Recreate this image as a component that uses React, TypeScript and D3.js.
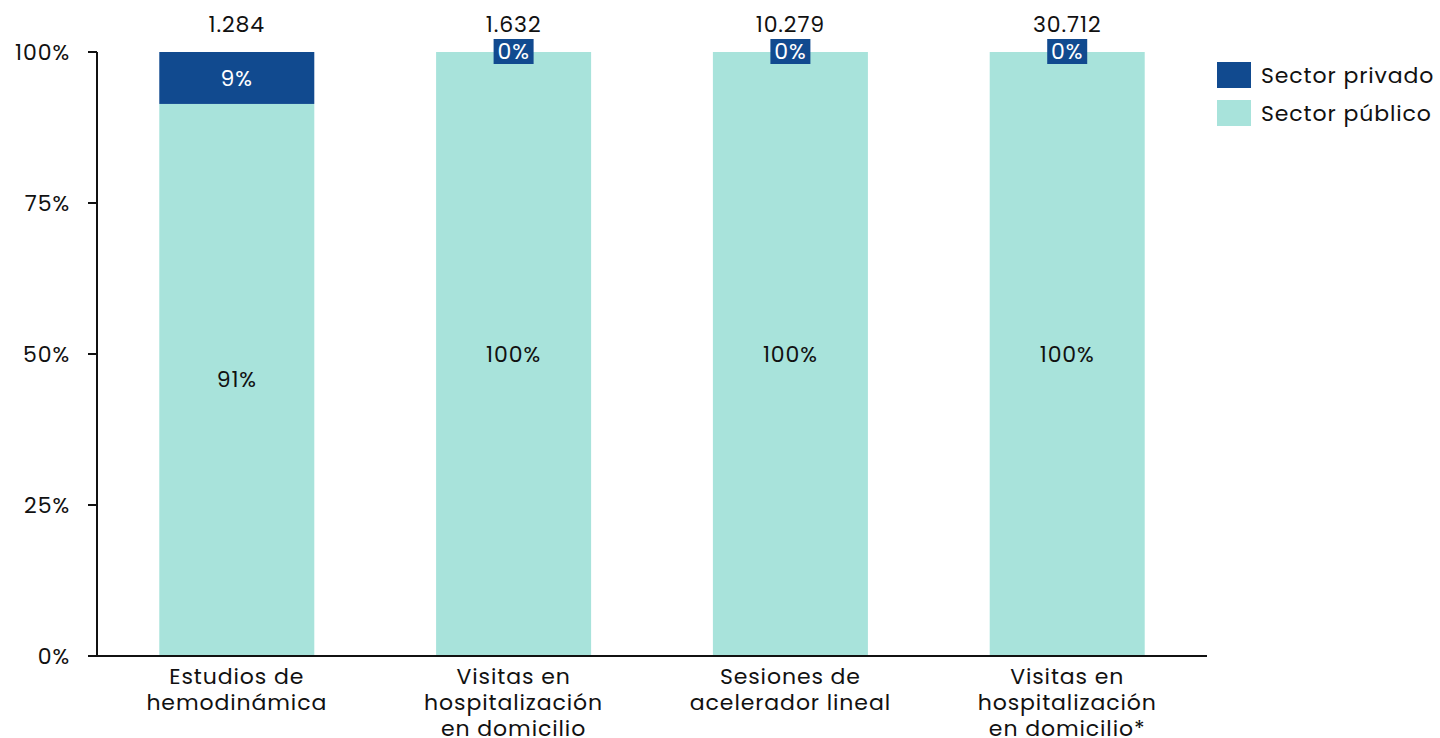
import React from "react";
import * as d3 from "d3";

const categories: string[][] = [
  ["Estudios de", "hemodinámica"],
  ["Visitas en", "hospitalización", "en domicilio"],
  ["Sesiones de", "acelerador lineal"],
  ["Visitas en", "hospitalización", "en domicilio*"],
];
const totals: string[] = ["1.284", "1.632", "10.279", "30.712"];
const privado: number[] = [8.6, 0, 0, 0];
const publico: number[] = [91.4, 100, 100, 100];
const yTicks: number[] = [0, 25, 50, 75, 100];
const legendLabels: string[] = ["Sector privado", "Sector público"];

const W = 1440;
const H = 738;
const M = { left: 97, right: 233, top: 52, bottom: 82 };
const DARK = "#114a8f";
const TEAL = "#a8e3db";
const FONT = "Poppins, Inter, 'Open Sans', sans-serif";
const FS = 22;
const LS = 0.9;

export default function App() {
  const x = d3
    .scaleBand<number>()
    .domain(categories.map((_, i) => i))
    .range([M.left, W - M.right])
    .paddingInner(0.44)
    .paddingOuter(0.225);
  const y = d3.scaleLinear().domain([0, 100]).range([H - M.bottom, M.top]);
  const bw = x.bandwidth();

  return (
    <svg width={W} height={H} style={{ position: "absolute", left: 0, top: 0, fontFamily: FONT, letterSpacing: LS }}>
      {categories.map((_, i) => {
        const x0 = x(i)!;
        const cx = x0 + bw / 2;
        const pub = publico[i];
        const prv = privado[i];
        return (
          <g key={i}>
            <rect x={x0} y={y(pub)} width={bw} height={y(0) - y(pub)} fill={TEAL} />
            {prv > 0 && (
              <rect x={x0} y={y(pub + prv)} width={bw} height={y(pub) - y(pub + prv)} fill={DARK} />
            )}
            <text x={cx} y={(y(0) + y(pub)) / 2} textAnchor="middle" dominantBaseline="central" fontSize={FS} fill="#111">
              {Math.round(pub)}%
            </text>
            {prv > 0 ? (
              <text x={cx} y={(y(pub) + y(pub + prv)) / 2 + 1} textAnchor="middle" dominantBaseline="central" fontSize={FS} fill="#fff">
                {Math.round(prv)}%
              </text>
            ) : (
              <g>
                <rect x={cx - 20} y={y(100) - 13} width={40} height={25} fill={DARK} />
                <text x={cx} y={y(100) - 1} textAnchor="middle" dominantBaseline="central" fontSize={FS} fill="#fff">
                  {Math.round(prv)}%
                </text>
              </g>
            )}
            <text x={cx} y={24} textAnchor="middle" dominantBaseline="central" fontSize={FS} fill="#111">
              {totals[i]}
            </text>
            {categories[i].map((line, j) => (
              <text key={j} x={cx} y={y(0) + 20 + j * 26} textAnchor="middle" dominantBaseline="central" fontSize={FS} fill="#111">
                {line}
              </text>
            ))}
          </g>
        );
      })}
      <line x1={M.left} x2={M.left} y1={y(100)} y2={y(0)} stroke="#111" strokeWidth={2} />
      <line x1={M.left} x2={W - M.right} y1={y(0)} y2={y(0)} stroke="#111" strokeWidth={2} />
      {yTicks.map((t) => (
        <g key={t}>
          <line x1={M.left - 9} x2={M.left} y1={y(t)} y2={y(t)} stroke="#111" strokeWidth={2} />
          <text x={70} y={y(t)} textAnchor="end" dominantBaseline="central" fontSize={FS} fill="#111">
            {t}%
          </text>
        </g>
      ))}
      {legendLabels.map((l, i) => (
        <g key={l}>
          <rect x={1217} y={62 + i * 38} width={34} height={26} fill={i === 0 ? DARK : TEAL} />
          <text x={1261} y={75 + i * 38} dominantBaseline="central" fontSize={FS} fill="#111">
            {l}
          </text>
        </g>
      ))}
    </svg>
  );
}
